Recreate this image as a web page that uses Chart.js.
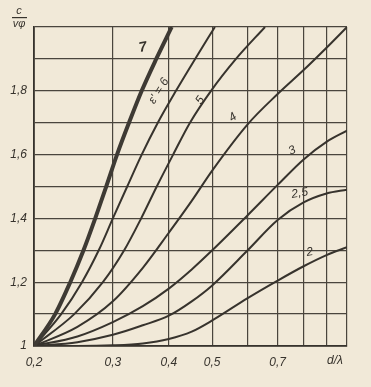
<!DOCTYPE html>
<html>
<head>
<meta charset="utf-8">
<script src="https://cdn.jsdelivr.net/npm/chart.js@4/dist/chart.umd.min.js"></script>
<style>
  html, body { margin: 0; padding: 0; background: #f1e9d8; }
  #wrap { width: 371px; height: 387px; position: relative; }
</style>
</head>
<body>
<div id="wrap"><canvas id="c" width="371" height="387"></canvas></div>
<script>
// ---- data ----
const yLevels = [1.0, 1.1, 1.2, 1.3, 1.4, 1.5, 1.6, 1.7, 1.8, 1.9, 2.0];
const xCurve7 = [0.2, 0.223, 0.241, 0.258, 0.274, 0.290, 0.3065, 0.326, 0.348, 0.375, 0.406];
const xCurve6 = [0.2, 0.230, 0.256, 0.279, 0.300, 0.323, 0.348, 0.378, 0.415, 0.458, 0.507];
const xCurve5 = [0.2, 0.246, 0.285, 0.318, 0.347, 0.376, 0.409, 0.446, 0.497, 0.565, 0.656];

const xPoints = [0.2, 0.25, 0.3, 0.35, 0.4, 0.45, 0.5, 0.6, 0.7, 0.8, 0.9, 1.0];
const yCurve4  = [1.0, 1.06, 1.14, 1.245, 1.355, 1.455, 1.55, 1.695, 1.79, 1.865, 1.935, 2.0];
const yCurve3  = [1.0, 1.03, 1.075, 1.125, 1.18, 1.24, 1.30, 1.41, 1.505, 1.585, 1.64, 1.675];
const yCurve25 = [1.0, 1.012, 1.035, 1.065, 1.095, 1.14, 1.19, 1.30, 1.395, 1.45, 1.478, 1.49];
const yCurve2  = [1.0, 1.0, 1.002, 1.008, 1.022, 1.045, 1.08, 1.15, 1.205, 1.25, 1.285, 1.31];

const xGridValues = [0.2, 0.3, 0.4, 0.5, 0.6, 0.7, 0.8, 0.9, 1.0];
const xTickLabels = { 2: '0,2', 3: '0,3', 4: '0,4', 5: '0,5', 7: '0,7' };
const yTickLabels = { 10: '1', 12: '1,2', 14: '1,4', 16: '1,6', 18: '1,8' };

// curve labels: text, anchor (data coords), rotation (deg)
const curveLabels = [
  { text: '7',      x: 0.350, y: 1.936, rot: -10, size: 14, bold: true },
  { text: "ε' = 6", x: 0.380, y: 1.80,  rot: -58, size: 12 },
  { text: '5',      x: 0.470, y: 1.77,  rot: -55, size: 12 },
  { text: '4',      x: 0.556, y: 1.717, rot: -35, size: 12 },
  { text: '3',      x: 0.754, y: 1.613, rot: -25, size: 12 },
  { text: '2,5',    x: 0.784, y: 1.479, rot: -10, size: 12 },
  { text: '2',      x: 0.826, y: 1.294, rot: -10, size: 12 }
];

const ink = '#37332d';
const gridInk = '#4a453d';
const fam = '"Liberation Sans", "DejaVu Sans", sans-serif';

function pairs(xs, ys) { return xs.map((x, i) => ({ x: x, y: ys[i] })); }

function ds(data, width, color) {
  return {
    data: data, showLine: true, borderColor: color, borderWidth: width,
    pointRadius: 0, cubicInterpolationMode: 'monotone', fill: false
  };
}

const labelsPlugin = {
  id: 'labelsPlugin',
  afterDatasetsDraw(chart) {
    const ctx = chart.ctx, xs = chart.scales.x, ys = chart.scales.y, ca = chart.chartArea;
    ctx.save();
    ctx.fillStyle = ink;
    ctx.textAlign = 'center';
    ctx.textBaseline = 'middle';
    curveLabels.forEach(l => {
      ctx.save();
      ctx.translate(xs.getPixelForValue(l.x), ys.getPixelForValue(l.y));
      ctx.rotate(l.rot * Math.PI / 180);
      ctx.font = 'italic ' + (l.bold ? 'bold ' : '') + l.size + 'px ' + fam;
      ctx.fillText(l.text, 0, 0);
      ctx.restore();
    });
    // x axis name
    ctx.font = 'italic 12px ' + fam;
    ctx.fillText('d/λ', ca.right - 12, ca.bottom + 15);
    // y axis name: c over v_phi
    ctx.font = 'italic 11px ' + fam;
    ctx.fillText('c', 19, 11);
    ctx.fillRect(12, 17, 15, 1.2);
    ctx.fillText('vφ', 19, 24);
    ctx.restore();
  }
};

new Chart(document.getElementById('c'), {
  type: 'scatter',
  data: {
    datasets: [
      ds(pairs(xCurve7, yLevels), 4, '#3e3a34'),
      ds(pairs(xCurve6, yLevels), 2, ink),
      ds(pairs(xCurve5, yLevels), 2, ink),
      ds(pairs(xPoints, yCurve4), 2, ink),
      ds(pairs(xPoints, yCurve3), 2, ink),
      ds(pairs(xPoints, yCurve25), 2, ink),
      ds(pairs(xPoints, yCurve2), 2, ink)
    ]
  },
  options: {
    responsive: false,
    animation: false,
    layout: { padding: { left: 0, right: 24, top: 27, bottom: 0 } },
    plugins: { legend: { display: false }, tooltip: { enabled: false } },
    scales: {
      x: {
        type: 'logarithmic', min: 0.2, max: 1.0,
        afterBuildTicks: s => { s.ticks = xGridValues.map(v => ({ value: v })); },
        afterFit: s => { s.height = 41; },
        ticks: {
          autoSkip: false, maxRotation: 0, padding: 9, color: ink,
          font: { family: fam, size: 12, style: 'italic' },
          callback: v => xTickLabels[Math.round(v * 10)] || ''
        },
        grid: { color: gridInk, lineWidth: 1.2, drawTicks: false },
        border: { color: ink, width: 1.8 }
      },
      y: {
        min: 1, max: 2,
        afterFit: s => { s.width = 34; },
        ticks: {
          stepSize: 0.1, padding: 7, color: ink,
          font: { family: fam, size: 12, style: 'italic' },
          callback: v => yTickLabels[Math.round(v * 10)] || ''
        },
        grid: { color: gridInk, lineWidth: 1.2, drawTicks: false },
        border: { color: ink, width: 1.8 }
      }
    }
  },
  plugins: [labelsPlugin]
});
</script>
</body>
</html>
